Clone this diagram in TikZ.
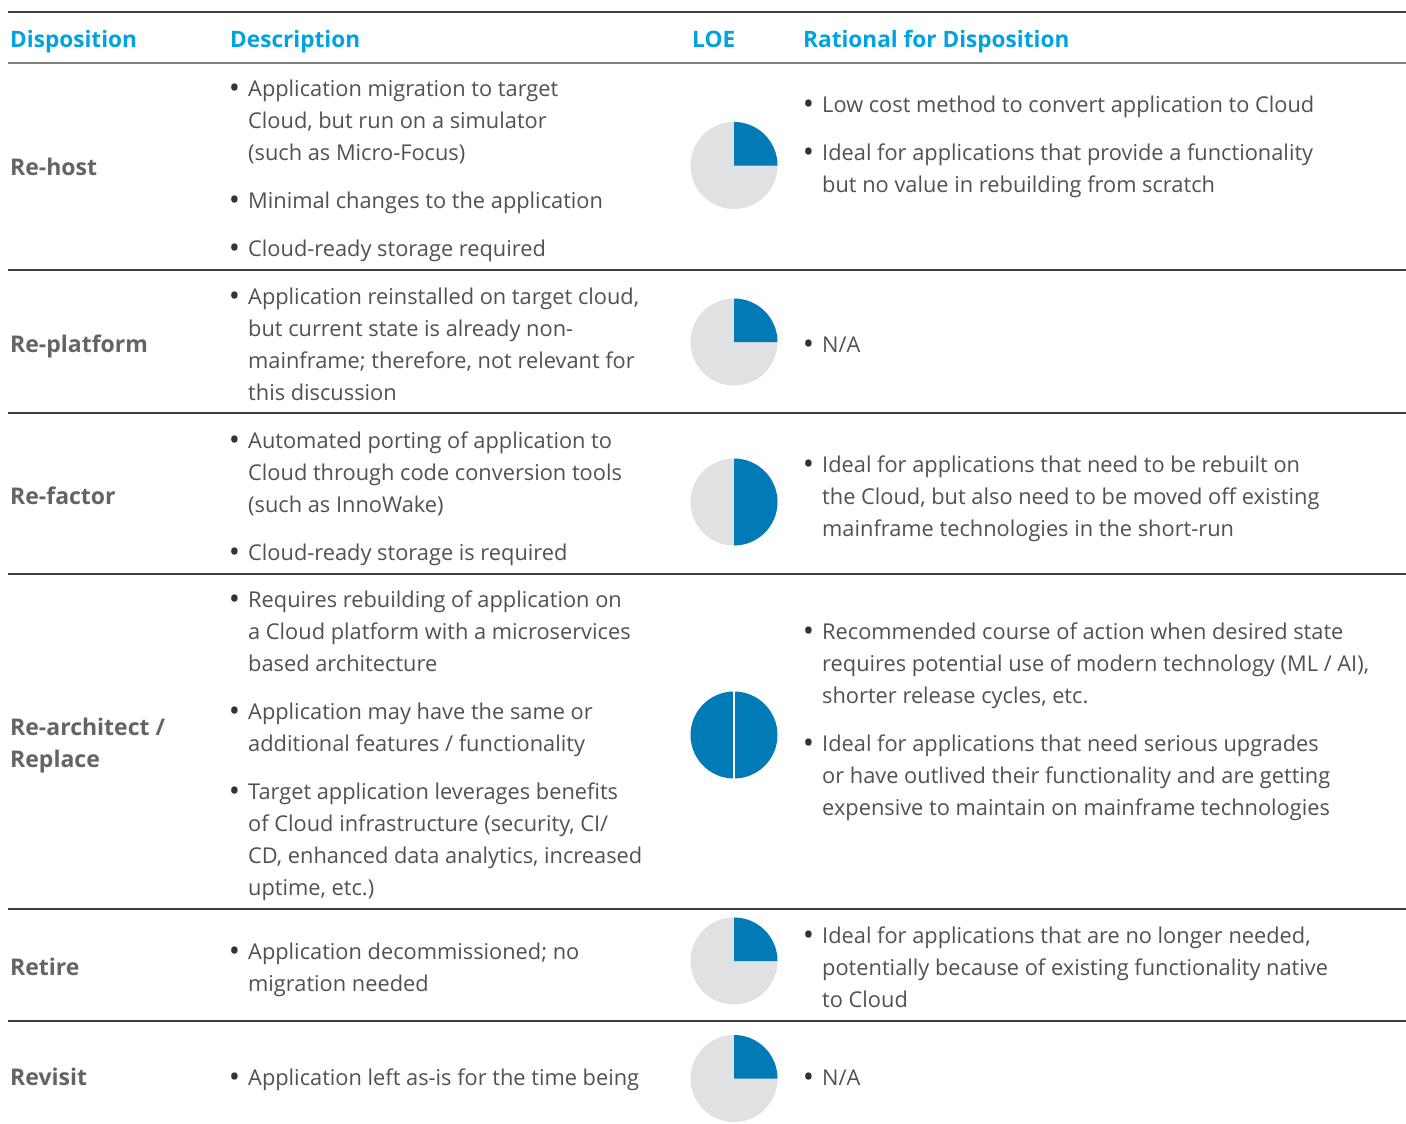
\documentclass[tikz,border=0pt]{standalone}
\usepackage{fontspec}
\setmainfont{Open Sans}
\usetikzlibrary{positioning}
\definecolor{headblue}{RGB}{0,163,224}
\definecolor{loeblue}{RGB}{0,123,182}
\definecolor{loegray}{RGB}{224,225,227}
\definecolor{dispgray}{RGB}{98,100,105}
\definecolor{bodygray}{RGB}{80,80,86}
\definecolor{rulecolor}{RGB}{60,62,74}
\newcommand{\bul}{\llap{\textcolor{black!80}{\fontsize{30}{32}\selectfont\raisebox{-2.6pt}{\textbullet}}\hspace{8pt}}}

\begin{document}
\begin{tikzpicture}[
    x=1pt, y=-1pt,
    head/.style={anchor=base west, inner sep=0pt, font=\fontsize{22.6}{26}\selectfont\bfseries, text=headblue},
    disp/.style={anchor=base west, inner sep=0pt, align=left, font=\fontsize{23}{32}\selectfont\bfseries, text=dispgray},
    item/.style={anchor=base west, inner sep=0pt, align=left, font=\fontsize{21.8}{32}\selectfont, text=bodygray},
    rowline/.style={draw=rulecolor, line width=1.2pt}
]
    \useasboundingbox (0,0) rectangle (1406,1124);
    % (multi-line nodes sit on the baseline of their last line)

    % Header
    \draw[rowline] (8,12) -- (1406,12);
    \node[head] (hdisp) at (10,48) {Disposition};
    \node[head] (hdesc) at (230,48) {Description};
    \node[head] (hloe) at (692,48) {LOE};
    \node[head] (hrat) at (803,48) {Rational for Disposition};
    \draw[draw=gray, line width=2pt] (8,63) -- (1406,63);

    % Row lines
    \foreach \y in {270,413,574,909,1021}
        \draw[rowline] (8,\y) -- (1406,\y);

    % Re-host
    \node[disp] (rehost) at (10,175) {Re-host};
    \node[item] (rehost1) at (248,160) {\bul Application migration to target\\Cloud, but run on a simulator\\(such as Micro-Focus)};
    \node[item] (rehost2) at (248,208) {\bul Minimal changes to the application};
    \node[item] (rehost3) at (248,256) {\bul Cloud-ready storage required};
    \node[item] (rehostr1) at (822,112) {\bul Low cost method to convert application to Cloud};
    \node[item] (rehostr2) at (822,192) {\bul Ideal for applications that provide a functionality\\but no value in rebuilding from scratch};

    % Re-platform
    \node[disp] (replat) at (10,352) {Re-platform};
    \node[item] (replat1) at (248,400) {\bul Application reinstalled on target cloud,\\but current state is already non-\\mainframe; therefore, not relevant for\\this discussion};
    \node[item] (replatr1) at (822,352) {\bul N/A};

    % Re-factor
    \node[disp] (refact) at (10,504) {Re-factor};
    \node[item] (refact1) at (248,512) {\bul Automated porting of application to\\Cloud through code conversion tools\\(such as InnoWake)};
    \node[item] (refact2) at (248,560) {\bul Cloud-ready storage is required};
    \node[item] (refactr1) at (822,536) {\bul Ideal for applications that need to be rebuilt on\\the Cloud, but also need to be moved off existing\\mainframe technologies in the short-run};

    % Re-architect / Replace
    \node[disp] (rearch) at (10,767) {Re-architect /\\Replace};
    \node[item] (rearch1) at (248,671) {\bul Requires rebuilding of application on\\a Cloud platform with a microservices\\based architecture};
    \node[item] (rearch2) at (248,751) {\bul Application may have the same or\\additional features / functionality};
    \node[item] (rearch3) at (248,895) {\bul Target application leverages benefits\\of Cloud infrastructure (security, CI/\\CD, enhanced data analytics, increased\\uptime, etc.)};
    \node[item] (rearchr1) at (822,703) {\bul Recommended course of action when desired state\\requires potential use of modern technology (ML / AI),\\shorter release cycles, etc.};
    \node[item] (rearchr2) at (822,815) {\bul Ideal for applications that need serious upgrades\\or have outlived their functionality and are getting\\expensive to maintain on mainframe technologies};

    % Retire
    \node[disp] (retire) at (10,975) {Retire};
    \node[item] (retire1) at (248,991) {\bul Application decommissioned; no\\migration needed};
    \node[item] (retirer1) at (822,1007) {\bul Ideal for applications that are no longer needed,\\potentially because of existing functionality native\\to Cloud};

    % Revisit
    \node[disp] (revisit) at (10,1085) {Revisit};
    \node[item] (revisit1) at (248,1085) {\bul Application left as-is for the time being};
    \node[item] (revisitr1) at (822,1085) {\bul N/A};

    % LOE pies
    \coordinate (p1) at (734,165.5);
    \coordinate (p2) at (734,342);
    \coordinate (p3) at (734,502);
    \coordinate (p4) at (734,735);
    \coordinate (p5) at (734,961);
    \coordinate (p6) at (734,1078.5);
    \foreach \p in {p1,p2,p5,p6} {
        \fill[loegray] (\p) circle (43.5);
        \fill[loeblue] (\p) -- ++(0,-43.5) arc[start angle=-90, end angle=0, radius=43.5] -- cycle;
    }
    \fill[loegray] (p3) circle (43.5);
    \fill[loeblue] (p3) -- ++(0,-43.5) arc[start angle=-90, end angle=90, radius=43.5] -- cycle;
    \fill[loeblue] (p4) circle (43.5);
    \draw[white, line width=2pt] ([yshift=-44pt]p4) -- ([yshift=44pt]p4);
\end{tikzpicture}
\end{document}
